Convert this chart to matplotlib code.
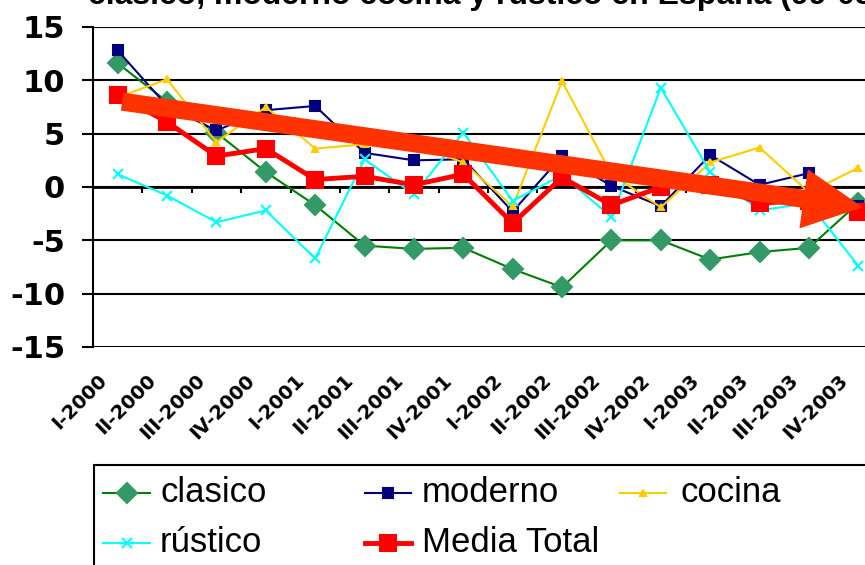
import numpy as np
import matplotlib.pyplot as plt
from matplotlib.lines import Line2D
from matplotlib.patches import Rectangle
from matplotlib.transforms import ScaledTranslation

plt.rcParams['axes.unicode_minus'] = False

# quarters
labels = ['I-2000', 'II-2000', 'III-2000', 'IV-2000',
          'I-2001', 'II-2001', 'III-2001', 'IV-2001',
          'I-2002', 'II-2002', 'III-2002', 'IV-2002',
          'I-2003', 'II-2003', 'III-2003', 'IV-2003']

# series values (% variation)
clasico = [11.6, 8.0, 5.1, 1.4, -1.7, -5.5, -5.8, -5.7,
           -7.7, -9.4, -5.0, -5.0, -6.8, -6.1, -5.7, -1.5]
moderno = [12.8, 7.6, 5.3, 7.2, 7.6, 3.2, 2.5, 2.6,
           -2.3, 2.9, 0.1, -1.8, 3.0, 0.2, 1.3, -1.8]
cocina = [8.4, 10.1, 4.2, 7.5, 3.6, 4.0, 4.0, 2.3,
          -1.8, 9.9, 1.2, -1.9, 2.3, 3.7, -0.5, 1.8]
rustico = [1.2, -0.8, -3.3, -2.2, -6.7, 2.6, -0.7, 5.1,
           -1.3, 1.1, -2.8, 9.3, 1.4, -2.2, -1.5, -7.4]
media = [8.6, 6.1, 2.9, 3.6, 0.7, 1.0, 0.2, 1.2,
         -3.4, 0.9, -1.7, 0.0, 0.2, -1.5, -1.3, -2.3]

yticks = [-15, -10, -5, 0, 5, 10, 15]
title = 'clasico, moderno cocina y rústico en España (99-03)'

W, H = 865, 565


def fx(x):
    return x / W


def fy(y):
    return 1 - y / H


fig = plt.figure(figsize=(W / 100, H / 100), dpi=100)
ax = fig.add_axes([fx(93), fy(347), 790 / W, 320 / H])

x = np.arange(len(labels))

# style of each series: (label, data, line color, marker, size, marker color, line width)
series = [
    ('clasico', clasico, '#008000', 'D', 10, '#339966', 1.5),
    ('moderno', moderno, '#000080', 's', 6.5, '#000080', 1.5),
    ('cocina', cocina, '#FFCC00', '^', 5, '#FFCC00', 1.5),
    ('rústico', rustico, '#00FFFF', 'x', 7, '#00FFFF', 1.5),
    ('Media Total', media, '#FF0000', 's', 12, '#FF0000', 3.5),
]

for name, vals, col, mk, ms, mcol, lw in series:
    ax.plot(x, vals, color=col, lw=lw, marker=mk, ms=ms, mfc=mcol, mec=mcol,
            mew=1.5, zorder=3, clip_on=False)

# trend arrow
ax.annotate('', xy=(15.09, -1.9), xytext=(0.09, 8.0),
            arrowprops=dict(arrowstyle='simple,head_length=43,head_width=43,tail_width=13',
                            mutation_scale=1, color='#FF3300', lw=0,
                            shrinkA=0, shrinkB=0),
            zorder=5, annotation_clip=False)

ax.set_xlim(-0.5, len(labels) - 0.5)
ax.set_ylim(-15, 15)

# horizontal gridlines
ax.set_yticks(yticks)
ax.grid(axis='y', color='black', lw=1.5)
ax.set_axisbelow(True)
for s in ['top', 'right', 'bottom']:
    ax.spines[s].set_visible(False)
ax.spines['left'].set_linewidth(1.5)

# category axis at zero, with ticks between categories
ax.axhline(0, color='black', lw=2, zorder=2)
ax.vlines(x[:-1] + 0.5, -0.55, 0, color='black', lw=1.5, zorder=2)

ax.tick_params(axis='y', direction='out', length=8, width=1.5, pad=12)
for lab in ax.get_yticklabels():
    lab.set_fontweight('bold')
    lab.set_fontsize(22)

ax.set_xticks(x)
ax.set_xticklabels(labels, rotation=45, ha='right', va='center',
                   rotation_mode='anchor', fontsize=14, fontweight='bold')
ax.tick_params(axis='x', length=0, pad=22)
for lab in ax.get_xticklabels():
    lab.set_transform(lab.get_transform() + ScaledTranslation(-10 / 72, 0, fig.dpi_scale_trans))

# title (cut off at the top, like the source)
fig.text(fx(88), fy(4), title, va='baseline', ha='left', fontsize=23,
         fontweight='bold', family='Liberation Sans')

# legend box drawn by hand
fig.add_artist(Rectangle((fx(94), fy(H + 20)), 1, (H + 20 - 465) / H,
                         transform=fig.transFigure, fill=False,
                         edgecolor='black', lw=1.5))
col_x = [(103, 150, 160), (365, 411, 422), (620, 666, 680)]
row_y = [493, 543]
for i, (name, vals, col, mk, ms, mcol, lw) in enumerate(series):
    r, c = divmod(i, 3)
    x0, x1, tx = col_x[c]
    yy = fy(row_y[r])
    fig.add_artist(Line2D([fx(x0), fx(x1)], [yy, yy], color=col, lw=lw,
                          transform=fig.transFigure))
    fig.add_artist(Line2D([fx((x0 + x1) / 2)], [yy], marker=mk, ms=ms,
                          mfc=mcol, mec=mcol, mew=1.5, transform=fig.transFigure))
    fig.text(fx(tx), yy, name, va='center', ha='left', fontsize=25,
             family='Liberation Sans')

fig.savefig('out.png', dpi=100)
